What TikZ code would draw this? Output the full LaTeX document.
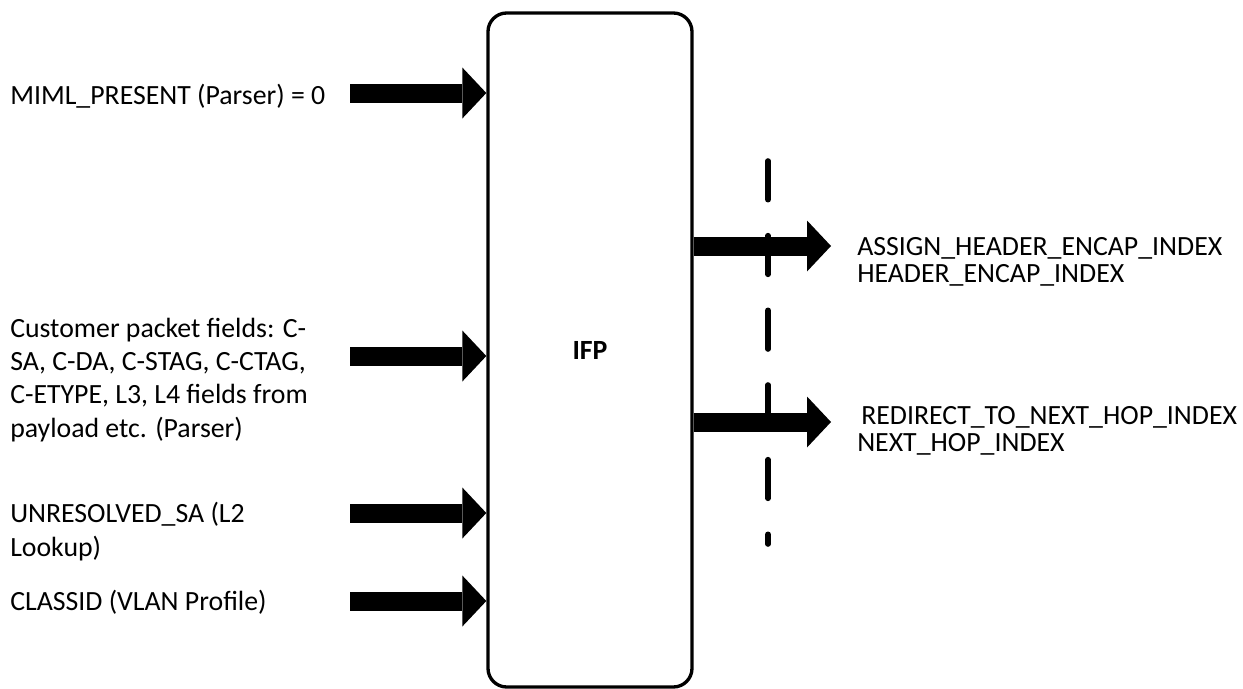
\documentclass[tikz,border=0pt]{standalone}
\usepackage{fontspec}
\setmainfont{Carlito}
\usetikzlibrary{arrows.meta}
\begin{document}
\begin{tikzpicture}[x=0.75pt,y=-0.75pt,
  % multi-line labels are anchored at the baseline of their last line
  lbl/.style={font=\fontsize{20.85}{25}\selectfont, inner sep=0pt, anchor=base west, align=left},
  rlbl/.style={font=\fontsize{20.85}{20}\selectfont, inner sep=0pt, anchor=base west, align=left},
  bigarrow/.style={line width=14.25pt, -{Triangle[length=18pt,width=38.25pt,line width=0pt]}},
  block/.style={draw, line width=2.5pt, rounded corners=14pt, minimum width=153pt, minimum height=505.5pt, inner sep=0pt},
  cut/.style={line width=4.2pt, line cap=round, dash pattern=on 29pt off 27pt}
]
\useasboundingbox (0,0) rectangle (1243,689);

% central block
\node[block, font=\fontsize{20.85}{25}\selectfont\bfseries] (ifp) at (590,350) {IFP};

% input labels
\node[lbl] (in1) at (10,104) {MIML\_PRESENT (Parser) = 0};
\node[lbl] (in2) at (10,437) {Customer packet fields: C-\\SA, C-DA, C-STAG, C-CTAG,\\C-ETYPE, L3, L4 fields from\\payload etc. (Parser)};
\node[lbl] (in3) at (10,556) {UNRESOLVED\_SA (L2\\Lookup)};
\node[lbl] (in4) at (10,610) {CLASSID (VLAN Profile)};

% output labels
\node[rlbl] (out1) at (857,282) {ASSIGN\_HEADER\_ENCAP\_INDEX\\HEADER\_ENCAP\_INDEX};
\node[rlbl] (out2) at (857,451) {\hspace*{3pt}REDIRECT\_TO\_NEXT\_HOP\_INDEX\\NEXT\_HOP\_INDEX};

% free ends of the arrows
\coordinate (s1) at (350,93);
\coordinate (s2) at (350,356);
\coordinate (s3) at (350,513);
\coordinate (s4) at (350,601);
\coordinate (e1) at (831,246);
\coordinate (e2) at (831,422);

% inputs
\draw[bigarrow] (s1) -- (s1 -| ifp.west);
\draw[bigarrow] (s2) -- (s2 -| ifp.west);
\draw[bigarrow] (s3) -- (s3 -| ifp.west);
\draw[bigarrow] (s4) -- (s4 -| ifp.west);

% outputs
\draw[bigarrow] (e1 -| ifp.east) -- (e1);
\draw[bigarrow] (e2 -| ifp.east) -- (e2);

% boundary
\draw[cut] (768,161) -- (768,544);
\end{tikzpicture}
\end{document}
